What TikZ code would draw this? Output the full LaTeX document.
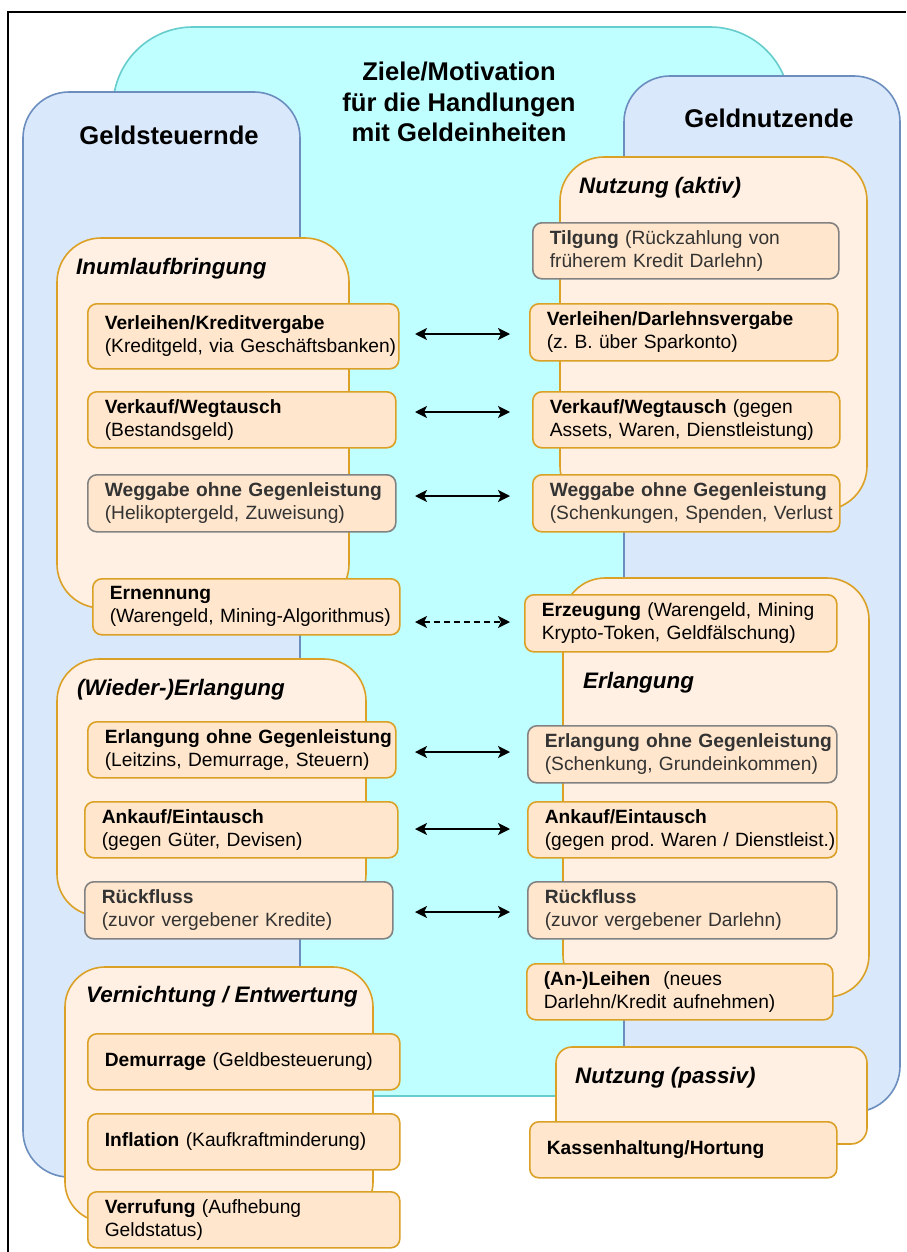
\documentclass[tikz,border=0pt]{standalone}
\usepackage{fontspec}
\setmainfont{Liberation Sans}
\usetikzlibrary{positioning, arrows.meta}

\definecolor{cyanfill}{RGB}{191,255,255}
\definecolor{cyanline}{RGB}{102,204,204}
\definecolor{bluefill}{HTML}{DAE8FC}
\definecolor{blueline}{HTML}{6C8EBF}
\definecolor{grpfill}{HTML}{FFF0E3}
\definecolor{orangeline}{HTML}{DBA126}
\definecolor{entryfill}{HTML}{FFE6CC}
\definecolor{grayline}{HTML}{828282}
\definecolor{graytext}{HTML}{333333}

\begin{document}
\begin{tikzpicture}[
  x=1pt, y=-1pt,
  >={Stealth[length=12pt, width=12pt, inset=3pt]},
  font=\fontsize{19.2}{23}\selectfont,
  side/.style={draw=blueline, fill=bluefill, line width=1.6pt, rounded corners=46pt},
  grp/.style={draw=orangeline, fill=grpfill, line width=1.6pt, rounded corners=#1},
  grp/.default=44pt,
  grplabel/.style={font=\fontsize{22.4}{27}\selectfont\bfseries\itshape,
                   anchor=west, inner sep=0pt},
  headline/.style={font=\fontsize{25.6}{30.7}\selectfont\bfseries, align=center},
  entry/.style 2 args={draw=orangeline, fill=entryfill, line width=1.6pt,
                       rounded corners=9pt, anchor=north west, align=left,
                       inner xsep=17pt, inner ysep=0pt,
                       text width=#1, minimum height=#2,
                       execute at begin node={\hyphenpenalty=10000 \exhyphenpenalty=10000 \hbadness=10000 \hfuzz=100pt}},
  entrygray/.style 2 args={entry={#1}{#2}, draw=grayline, text=graytext},
  link/.style={<->, line width=1.6pt},
]

\useasboundingbox (0,0) rectangle (906,1252);
\fill[white] (0,0) rectangle (906,1252);

% Frame
\draw[line width=1.5pt] (8,1252) -- (8,12) -- (906,12);

% Motivation area and the two sides
\draw[draw=cyanline, fill=cyanfill, line width=1.6pt, rounded corners=80pt]
  (113,27) rectangle (790,1096);
\draw[side] (23,92) rectangle (300,1177);
\draw[side] (624,76) rectangle (900,1112);

\node[headline] (ziele) at (459,102) {Ziele/Motivation\\f\"ur die Handlungen\\mit Geldeinheiten};
\node[headline] (steuer) at (169,135) {Geldsteuernde};
\node[headline] (nutzer) at (769,118) {Geldnutzende};

% Groups, left side
\draw[grp] (57,238) rectangle (349,608);
\node[grplabel] (inum) at (76,269) {Inumlaufbringung};
\draw[grp=42pt] (57,659) rectangle (366,916);
\node[grplabel] (wieder) at (77,690) {(Wieder-)Erlangung};
\draw[grp=40pt] (65,967) rectangle (373,1222);
\node[grplabel] (vernicht) at (86,997) {Vernichtung / Entwertung};

% Groups, right side
\draw[grp] (560,157) rectangle (867,510);
\node[grplabel] (aktiv) at (579,188) {Nutzung (aktiv)};
\draw[grp=42pt] (563,578) rectangle (869,997);
\node[grplabel] (erlang) at (583,683) {Erlangung};
\draw[grp=16pt] (556,1047) rectangle (867,1144);
\node[grplabel] (passiv) at (575,1078) {Nutzung (passiv)};

% Entries, left side
\node[entry={277pt}{65pt}] (vkL) at (87,303)
  {\textbf{Verleihen/Kreditvergabe}\\(Kreditgeld,~via~Gesch\"aftsbanken)};
\node[entry={274pt}{56pt}] (wtL) at (87,391)
  {\textbf{Verkauf/Wegtausch}\\(Bestandsgeld)};
\node[entrygray={274pt}{57pt}] (wgL) at (87,474)
  {\textbf{Weggabe~ohne~Gegenleistung}\\(Helikoptergeld,~Zuweisung)};
\node[entry={273pt}{56pt}] (ern) at (92,578)
  {\textbf{Ernennung}\\(Warengeld,~Mining-Algorithmus)};
\node[entry={274pt}{56pt}] (egL) at (87,721)
  {\textbf{Erlangung~ohne~Gegenleistung}\\(Leitzins,~Demurrage,~Steuern)};
\node[entry={279pt}{56pt}] (akL) at (84,801)
  {\textbf{Ankauf/Eintausch}\\(gegen~G\"uter,~Devisen)};
\node[entrygray={274pt}{57pt}] (rfL) at (84,881)
  {\textbf{R\"uckfluss}\\(zuvor~vergebener~Kredite)};
\node[entry={278pt}{56pt}] (dem) at (87,1033)
  {\textbf{Demurrage}~(Geldbesteuerung)};
\node[entry={278pt}{56pt}] (inf) at (87,1113)
  {\textbf{Inflation}~(Kaufkraftminderung)};
\node[entry={278pt}{56pt}] (ver) at (87,1191)
  {\textbf{Verrufung}~(Aufhebung\\Geldstatus)};

% Entries, right side
\node[entrygray={272pt}{56pt}] (tilg) at (532,222)
  {\textbf{Tilgung}~(R\"uckzahlung~von\\fr\"uherem~Kredit~Darlehn)};
\node[entry={274pt}{57pt}] (vdR) at (529,303)
  {\textbf{Verleihen/Darlehnsvergabe}\\(z.~B.~\"uber~Sparkonto)};
\node[entry={273pt}{56pt}] (wtR) at (532,391)
  {\textbf{Verkauf/Wegtausch}~(gegen\\Assets,~Waren,~Dienstleistung)};
\node[entry={273pt}{57pt}, text=graytext] (wgR) at (532,474)
  {\textbf{Weggabe~ohne~Gegenleistung}\\(Schenkungen,~Spenden,~Verlust};
\node[entry={278pt}{57pt}] (erz) at (524,594)
  {\textbf{Erzeugung}~(Warengeld,~Mining\\Krypto-Token,~Geldf\"alschung)};
\node[entrygray={275pt}{57pt}] (egR) at (527,725)
  {\textbf{Erlangung~ohne~Gegenleistung}\\(Schenkung,~Grundeinkommen)};
\node[entry={275pt}{56pt}] (akR) at (527,801)
  {\textbf{Ankauf/Eintausch}\\(gegen~prod.~Waren~/~Dienstleist.)};
\node[entrygray={275pt}{57pt}] (rfR) at (527,881)
  {\textbf{R\"uckfluss}\\(zuvor~vergebener~Darlehn)};
\node[entry={272pt}{56pt}] (lei) at (526,963)
  {\textbf{(An-)Leihen}~~(neues\\Darlehn/Kredit~aufnehmen)};
\node[entry={273pt}{56pt}] (kas) at (529,1121)
  {\textbf{Kassenhaltung/Hortung}};

% Links between both sides
\foreach \y [count=\i] in {334,412,496,752,829,912} {
  \coordinate (al\i) at (415,\y);
  \coordinate (ar\i) at (510,\y);
  \draw[link] (al\i) -- (ar\i);
}
\coordinate (al0) at (415,622);
\coordinate (ar0) at (510,622);
\draw[link, dash pattern=on 6pt off 4pt] (al0) -- (ar0);

\end{tikzpicture}
\end{document}
